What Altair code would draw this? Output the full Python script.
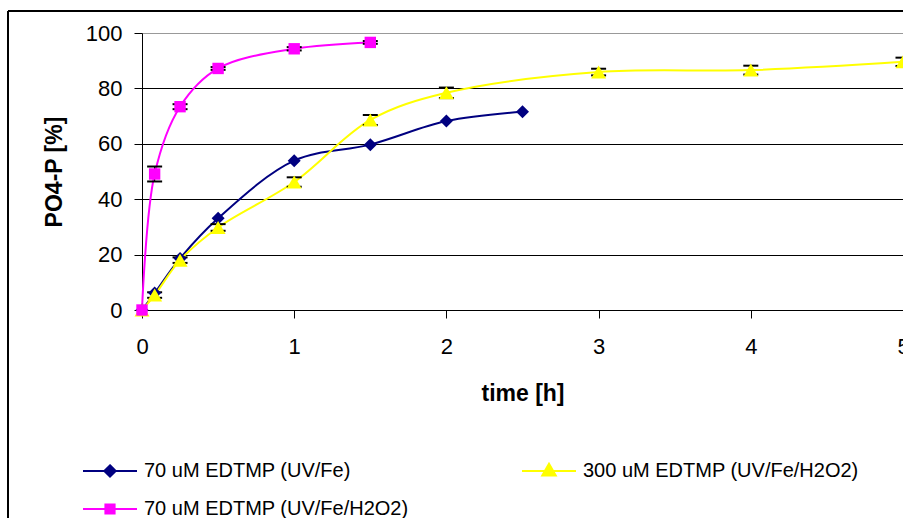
import altair as alt
import pandas as pd

# ---------------- data ----------------
series_names = ["70 uM EDTMP (UV/Fe)", "300 uM EDTMP (UV/Fe/H2O2)", "70 uM EDTMP (UV/Fe/H2O2)"]
series_colors = ["#000080", "#FFFF00", "#FF00FF"]
series_shapes = ["diamond", "triangle-up", "square"]
series_sizes = [169, 225, 130]

# 70 uM EDTMP (UV/Fe)
t_fe = [0, 0.083, 0.25, 0.5, 1, 1.5, 2, 2.5]
p_fe = [0, 6.1, 18.6, 33.1, 53.9, 59.7, 68.2, 71.6]

# 300 uM EDTMP (UV/Fe/H2O2)
t_300 = [0, 0.083, 0.25, 0.5, 1, 1.5, 2, 3, 4, 5]
p_300 = [0, 5.4, 18.0, 29.8, 46.2, 68.6, 78.4, 85.9, 86.6, 89.6]
e_300 = [0, 1.0, 1.0, 1.2, 1.7, 1.8, 1.9, 1.2, 1.6, 1.5]

# 70 uM EDTMP (UV/Fe/H2O2)
t_70h = [0, 0.083, 0.25, 0.5, 1, 1.5]
p_70h = [0, 49.1, 73.4, 87.2, 94.3, 96.6]
e_70h = [0, 2.7, 0.9, 0.5, 0.6, 0.5]

x_ticks = [0, 1, 2, 3, 4, 5]
y_ticks = [0, 20, 40, 60, 80, 100]

# legend symbols: line with marker (custom paths in unit coordinates)
legend_paths = [
    "M-1,0L1,0M0,-0.21L0.21,0L0,0.21L-0.21,0Z",
    "M-1,0L1,0M0,-0.27L0.25,0.17L-0.25,0.17Z",
    "M-1,0L1,0M-0.17,-0.17L0.17,-0.17L0.17,0.17L-0.17,0.17Z",
]

# ---------------- tables ----------------
frames = [
    pd.DataFrame({"series": series_names[0], "t": t_fe, "p": p_fe, "err": [None] * len(t_fe)}),
    pd.DataFrame({"series": series_names[1], "t": t_300, "p": p_300, "err": e_300}),
    pd.DataFrame({"series": series_names[2], "t": t_70h, "p": p_70h, "err": e_70h}),
]
df = pd.concat(frames, ignore_index=True)
df_err = df.dropna(subset=["err"]).copy()
df_err = df_err[df_err["err"] > 0]
df_err["lo"] = df_err["p"] - df_err["err"]
df_err["hi"] = df_err["p"] + df_err["err"]

FONT = "Liberation Sans"
W, H = 761, 277

x_scale = alt.Scale(domain=[0, 5], nice=False, zero=False)
y_scale = alt.Scale(domain=[0, 100], nice=False)

x_axis = alt.Axis(values=x_ticks, title="time [h]", grid=False, tickSize=8, tickColor="black",
                  domainColor="black", labelFontSize=22, labelFont=FONT, labelColor="black",
                  labelPadding=18, titleFont=FONT, titleFontSize=23, titleFontWeight="bold",
                  titleColor="black", titlePadding=25, labelFlush=False, labelOverlap=False,
                  format="d")
y_axis = alt.Axis(values=y_ticks, title="PO4-P [%]", grid=True,
                  gridColor={"condition": {"test": "datum.value === 100", "value": "#999999"}, "value": "#000000"},
                  gridOpacity=1, gridWidth=1,
                  tickSize=8, tickColor="black", domainColor="black", labelFontSize=22,
                  labelFont=FONT, labelColor="black", labelPadding=12, titleFont=FONT,
                  titleFontSize=23, titleFontWeight="bold", titleColor="black", titlePadding=19,
                  format="d")

base_x = alt.X("t:Q", scale=x_scale, axis=x_axis)
base_y = alt.Y("p:Q", scale=y_scale, axis=y_axis)

layers = []

# lines
for name, col in zip(series_names, series_colors):
    layers.append(
        alt.Chart(df).transform_filter(alt.datum.series == name)
        .mark_line(interpolate="catmull-rom", strokeWidth=2, color=col, clip=False)
        .encode(x=base_x, y=base_y)
    )

# error bars
layers.append(
    alt.Chart(df_err).mark_rule(color="black", strokeWidth=1.2)
    .encode(x=alt.X("t:Q", scale=x_scale), y=alt.Y("lo:Q", scale=y_scale), y2="hi:Q")
)
layers.append(
    alt.Chart(df_err).mark_tick(orient="horizontal", color="black", size=15, thickness=2, opacity=1)
    .encode(x=alt.X("t:Q", scale=x_scale), y=alt.Y("lo:Q", scale=y_scale))
)
layers.append(
    alt.Chart(df_err).mark_tick(orient="horizontal", color="black", size=15, thickness=2, opacity=1)
    .encode(x=alt.X("t:Q", scale=x_scale), y=alt.Y("hi:Q", scale=y_scale))
)

# markers
for name, col, shp, sz in zip(series_names, series_colors, series_shapes, series_sizes):
    layers.append(
        alt.Chart(df).transform_filter(alt.datum.series == name)
        .mark_point(filled=True, shape=shp, size=sz, color=col, opacity=1, clip=False)
        .encode(x=base_x, y=base_y)
    )

# legend layer (draws no marks, only the legend)
leg = alt.Legend(title=None, orient="none", legendX=-60, legendY=410, columns=2,
                 columnPadding=109, rowPadding=-22, symbolSize=2916, symbolStrokeWidth=2,
                 symbolOpacity=1, labelFont=FONT, labelFontSize=20, labelColor="black",
                 labelOffset=6, labelLimit=400, direction="horizontal")
layers.append(
    alt.Chart(df).transform_filter("false")
    .mark_point(filled=True)
    .encode(
        x=alt.X("t:Q", scale=x_scale),
        y=alt.Y("p:Q", scale=y_scale),
        color=alt.Color("series:N", scale=alt.Scale(domain=series_names, range=series_colors), legend=leg),
        stroke=alt.Stroke("series:N", scale=alt.Scale(domain=series_names, range=series_colors), legend=leg),
        shape=alt.Shape("series:N", scale=alt.Scale(domain=series_names, range=legend_paths), legend=leg),
    )
)

# outer frame (decorative border of the chart area)
frame_left = alt.Chart(df).mark_rule(color="black", strokeWidth=1, clip=False).encode(
    x=alt.value(-134), y=alt.value(-22), y2=alt.value(485))
frame_top = alt.Chart(df).mark_rule(color="black", strokeWidth=1, clip=False).encode(
    x=alt.value(-134), x2=alt.value(761), y=alt.value(-22))
layers.append(frame_left)
layers.append(frame_top)

chart = alt.layer(*layers).properties(
    width=W, height=H,
    autosize=alt.AutoSizeParams(type="none"),
    padding={"left": 142, "top": 33, "right": 0, "bottom": 208},
).configure_view(stroke="#999999", strokeWidth=1).configure(background="white")

chart.save("out.html", embed_options={"renderer": "svg", "actions": False})
